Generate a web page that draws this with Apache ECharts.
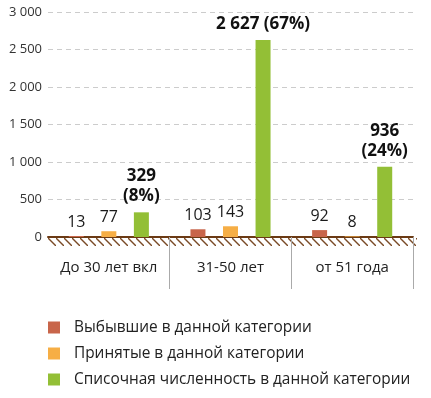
<!DOCTYPE html>
<html>
<head>
<meta charset="utf-8">
<script src="https://cdn.jsdelivr.net/npm/echarts@6/dist/echarts.min.js"></script>
<style>
  html, body { margin: 0; padding: 0; background: #fff; }
  #container { width: 431px; height: 398px; }
</style>
</head>
<body>
<div id="container"></div>
<script>
var categories = ['До 30 лет вкл', '31-50 лет', 'от 51 года']
var seriesNames = [
  'Выбывшие в данной категории',
  'Принятые в данной категории',
  'Списочная численность в данной категории'
]
var leftValues = [13, 103, 92]
var hiredValues = [77, 143, 8]
var totalValues = [329, 2627, 936]
var totalShares = [8, 67, 24] // %

// пробел как разделитель тысяч
function fmt(v) {
  return String(v).replace(/\B(?=(\d{3})+(?!\d))/g, ' ')
}

// штриховка под осью
var hatch = document.createElement('canvas')
hatch.width = 8
hatch.height = 8
var ctx = hatch.getContext('2d')
ctx.strokeStyle = '#7a4a26'
ctx.lineWidth = 1.4
ctx.beginPath()
ctx.moveTo(-1, -1); ctx.lineTo(9, 9)
ctx.stroke()

var chart = echarts.init(document.getElementById('container'))

var font = 'Open Sans'
var smallLabel = {
  show: true,
  position: 'top',
  distance: 6,
  fontFamily: font,
  fontSize: 16,
  color: '#1a1a1a',
  formatter: function(p) { return fmt(p.value) }
}

chart.setOption({
  animation: false,
  textStyle: { fontFamily: font },
  grid: { left: 48, right: 18, top: 12, bottom: 161 },
  legend: {
    orient: 'vertical',
    left: 48,
    top: 320,
    padding: 0,
    itemWidth: 12,
    itemHeight: 12,
    itemGap: 11,
    icon: 'rect',
    textStyle: { fontFamily: font, fontSize: 15.4, color: '#222', padding: [0, 0, 0, 9] },
    data: seriesNames
  },
  xAxis: {
    type: 'category',
    data: categories,
    axisLine: { lineStyle: { color: '#6b3a14', width: 2 } },
    axisTick: {
      show: true,
      length: 52,
      interval: function(i) { return i > 0 && i < categories.length },
      lineStyle: { color: '#aaa', width: 1 }
    },
    axisLabel: { interval: 0, hideOverlap: false, margin: 23, fontFamily: font, fontSize: 15, color: '#222' }
  },
  yAxis: {
    type: 'value',
    min: 0,
    max: 3000,
    interval: 500,
    axisLine: { show: false },
    axisTick: { show: false },
    axisLabel: {
      margin: 6,
      fontFamily: font,
      fontSize: 13,
      color: '#333',
      formatter: function(v) { return fmt(v) }
    },
    splitLine: { lineStyle: { color: '#ccc', type: [5, 4], width: 1 } }
  },
  graphic: [{
    type: 'rect',
    left: 48,
    top: 238,
    shape: { width: 369, height: 8 },
    style: { fill: { image: hatch, repeat: 'repeat' } },
    silent: true
  }],
  series: [
    {
      name: seriesNames[0],
      type: 'bar',
      data: leftValues,
      barWidth: 15,
      barGap: '117%',
      itemStyle: { color: '#c8654a' },
      label: smallLabel
    },
    {
      name: seriesNames[1],
      type: 'bar',
      data: hiredValues,
      barWidth: 15,
      barGap: '117%',
      itemStyle: { color: '#f6ae45' },
      label: smallLabel
    },
    {
      name: seriesNames[2],
      type: 'bar',
      data: totalValues,
      barWidth: 15,
      barGap: '117%',
      itemStyle: { color: '#93bf36' },
      label: {
        show: true,
        position: 'top',
        distance: 6,
        fontFamily: font,
        fontSize: 17,
        fontWeight: 'bold',
        lineHeight: 20,
        color: '#111',
        formatter: function(p) {
          var sep = p.dataIndex === 1 ? ' ' : '\n'
          return fmt(p.value) + sep + '(' + totalShares[p.dataIndex] + '%)'
        }
      }
    }
  ]
})
</script>
</body>
</html>
